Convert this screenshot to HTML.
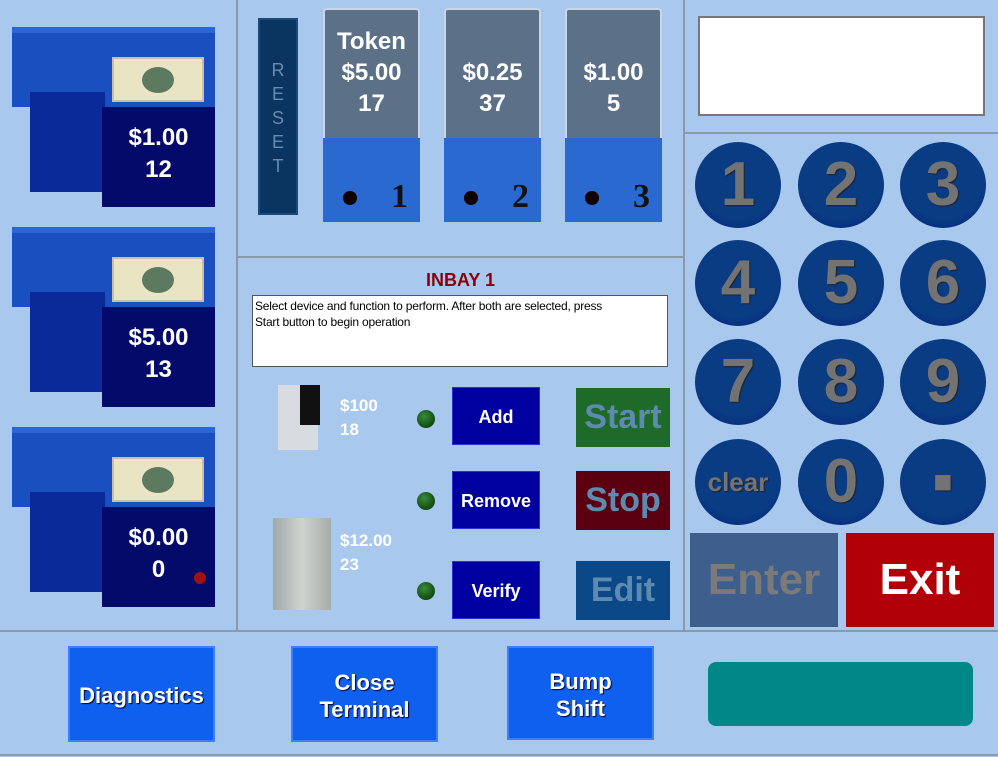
<!DOCTYPE html>
<html><head><style>
*{margin:0;padding:0;box-sizing:border-box}
body{width:998px;height:757px;background:#a8c8ee;position:relative;overflow:hidden;font-family:"Liberation Sans",sans-serif}
.a{position:absolute}
.line{position:absolute;background:#8a9aa8}
.bill{position:absolute;width:203px;height:192px}
.bill .top{position:absolute;left:0;top:15px;width:203px;height:80px;background:#1a4fc0;border-top:6px solid #2a66d8}
.bill .front{position:absolute;left:90px;top:95px;width:113px;height:100px;background:#040a6a}
.bill .side{position:absolute;left:18px;top:80px;width:75px;height:100px;background:#0a2a9a}
.bill .note{position:absolute;left:100px;top:45px;width:92px;height:45px;background:#e8e4c4;border:2px solid #c8c0a0}
.bill .note:after{content:"";position:absolute;left:28px;top:8px;width:32px;height:26px;border-radius:50%;background:#5d7a60}
.bill .t{position:absolute;left:90px;width:113px;text-align:center;color:#fff;font-weight:bold;font-size:24px;line-height:32px;top:110px}
.hop{position:absolute;width:97px;height:214px}
.hop .glass{position:absolute;left:0;top:0;width:97px;height:140px;background:#5c7088;border:2px solid #c8d6e8;border-radius:4px 4px 0 0}
.hop .base{position:absolute;left:0;top:130px;width:97px;height:84px;background:#2a6ad0}
.hop .t{position:absolute;left:0;width:97px;text-align:center;color:#fff;font-weight:bold;font-size:24px;line-height:31px;top:18px}
.hop .dot{position:absolute;left:20px;top:183px;width:14px;height:14px;border-radius:50%;background:#100}
.hop .n{position:absolute;left:68px;top:170px;font:bold 34px "Liberation Serif",serif;color:#111}
.key{position:absolute;width:86px;height:86px;border-radius:50%;background:radial-gradient(circle at 50% 40%,#0a3c84 62%,#031f78);color:#737373;font-weight:bold;font-size:62px;text-align:center;line-height:86px;text-shadow:1px 1px 1px #222}
.btn{position:absolute;background:#0000a0;color:#fff;font-weight:bold;font-size:18px;text-align:center;border:1px solid #3030d0}
.big{position:absolute;font-weight:bold;font-size:34px;text-align:center;color:#5f8ab0}
.led{position:absolute;width:18px;height:18px;border-radius:50%;background:radial-gradient(circle at 40% 35%,#3a8a3a,#003000)}
.bb{position:absolute;width:147px;background:#1060f0;border:2px solid #3a80ff;color:#fff;font-weight:bold;font-size:22px;text-align:center;text-shadow:1px 1px 1px #003}
</style></head><body>
<div class="line" style="left:236px;top:0;width:2px;height:630px"></div>
<div class="line" style="left:683px;top:0;width:2px;height:630px"></div>
<div class="line" style="left:238px;top:256px;width:445px;height:2px"></div>
<div class="line" style="left:685px;top:132px;width:313px;height:2px"></div>
<div class="line" style="left:0;top:630px;width:998px;height:2px"></div>
<div class="line" style="left:0;top:754px;width:998px;height:2px"></div>

<div class="bill" style="left:12px;top:12px"><div class="top"></div><div class="side"></div><div class="front"></div><div class="note"></div><div class="t">$1.00<br>12</div></div>
<div class="bill" style="left:12px;top:212px"><div class="top"></div><div class="side"></div><div class="front"></div><div class="note"></div><div class="t">$5.00<br>13</div></div>
<div class="bill" style="left:12px;top:412px"><div class="top"></div><div class="side"></div><div class="front"></div><div class="note"></div><div class="t">$0.00<br>0</div><div class="a" style="left:182px;top:160px;width:12px;height:12px;border-radius:50%;background:#a01010"></div></div>

<div class="a" style="left:258px;top:18px;width:40px;height:197px;background:#0a3560;border:2px solid #1a4a78;color:#6a8ab0;font-size:18px;text-align:center;line-height:24px;padding-top:38px">R<br>E<br>S<br>E<br>T</div>

<div class="hop" style="left:323px;top:8px"><div class="glass"></div><div class="base"></div><div class="t">Token<br>$5.00<br>17</div><div class="dot"></div><div class="n">1</div></div>
<div class="hop" style="left:444px;top:8px"><div class="glass"></div><div class="base"></div><div class="t" style="top:49px">$0.25<br>37</div><div class="dot"></div><div class="n">2</div></div>
<div class="hop" style="left:565px;top:8px"><div class="glass"></div><div class="base"></div><div class="t" style="top:49px">$1.00<br>5</div><div class="dot"></div><div class="n">3</div></div>

<div class="a" style="left:238px;top:270px;width:445px;text-align:center;color:#8a0010;font-weight:bold;font-size:18px">INBAY 1</div>
<div class="a" style="left:252px;top:295px;width:416px;height:72px;background:#fff;border:1px solid #555;font-size:12px;line-height:16px;padding:2px 2px;color:#000;letter-spacing:-0.2px">Select device and function to perform. After both are selected, press<br>Start button to begin operation</div>

<div class="a" style="left:278px;top:385px;width:40px;height:65px;background:#d8dce0"></div>
<div class="a" style="left:300px;top:385px;width:20px;height:40px;background:#111"></div>
<div class="a" style="left:273px;top:518px;width:58px;height:92px;background:linear-gradient(90deg,#a0a8a8,#d0d4d0,#a8aca8)"></div>
<div class="a" style="left:340px;top:394px;color:#fff;font-weight:bold;font-size:17px;line-height:24px">$100<br>18</div>
<div class="a" style="left:340px;top:529px;color:#fff;font-weight:bold;font-size:17px;line-height:24px">$12.00<br>23</div>

<div class="led" style="left:417px;top:410px"></div>
<div class="led" style="left:417px;top:492px"></div>
<div class="led" style="left:417px;top:582px"></div>
<div class="btn" style="left:452px;top:387px;width:88px;height:58px;line-height:58px">Add</div>
<div class="btn" style="left:452px;top:471px;width:88px;height:58px;line-height:58px">Remove</div>
<div class="btn" style="left:452px;top:561px;width:88px;height:58px;line-height:58px">Verify</div>
<div class="big" style="left:576px;top:388px;width:94px;height:59px;line-height:59px;background:#1e6a28">Start</div>
<div class="big" style="left:576px;top:471px;width:94px;height:59px;line-height:59px;background:#5a0010">Stop</div>
<div class="big" style="left:576px;top:561px;width:94px;height:59px;line-height:59px;background:#0a4888">Edit</div>

<div class="a" style="left:698px;top:16px;width:287px;height:100px;background:#fff;border:2px solid #777"></div>

<div class="key" style="left:695px;top:142px">1</div>
<div class="key" style="left:798px;top:142px">2</div>
<div class="key" style="left:900px;top:142px">3</div>
<div class="key" style="left:695px;top:240px">4</div>
<div class="key" style="left:798px;top:240px">5</div>
<div class="key" style="left:900px;top:240px">6</div>
<div class="key" style="left:695px;top:339px">7</div>
<div class="key" style="left:798px;top:339px">8</div>
<div class="key" style="left:900px;top:339px">9</div>
<div class="key" style="left:695px;top:439px;font-size:26px">clear</div>
<div class="key" style="left:798px;top:439px">0</div>
<div class="key" style="left:900px;top:439px">▪</div>
<div class="a" style="left:690px;top:533px;width:148px;height:94px;background:#3e5e8e;color:#7a7a7a;font-weight:bold;font-size:44px;text-align:center;line-height:94px">Enter</div>
<div class="a" style="left:846px;top:533px;width:148px;height:94px;background:#b00008;color:#fff;font-weight:bold;font-size:44px;text-align:center;line-height:94px">Exit</div>

<div class="bb" style="left:68px;top:646px;height:96px;line-height:96px">Diagnostics</div>
<div class="bb" style="left:291px;top:646px;height:96px;line-height:27px;padding-top:21px">Close<br>Terminal</div>
<div class="bb" style="left:507px;top:646px;height:94px;line-height:27px;padding-top:20px">Bump<br>Shift</div>
<div class="a" style="left:708px;top:662px;width:265px;height:64px;background:#008888;border-radius:8px"></div>
</body></html>
